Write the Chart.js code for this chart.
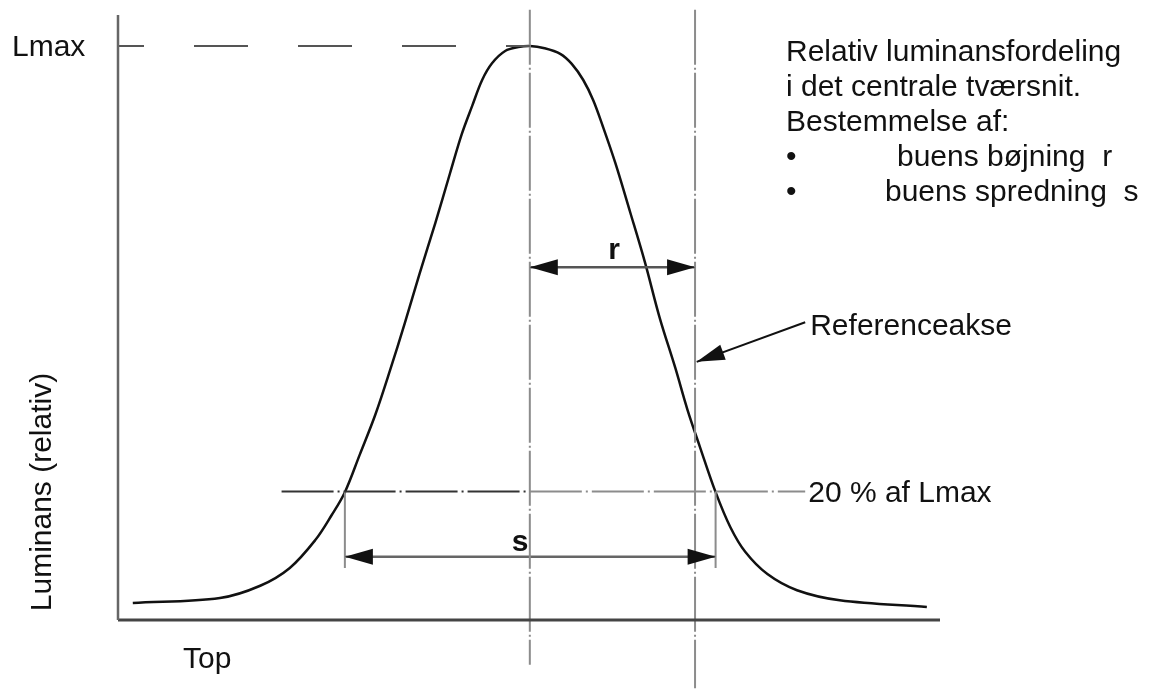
<!DOCTYPE html>
<html>
<head>
<meta charset="utf-8">
<script src="https://cdn.jsdelivr.net/npm/chart.js@4.4.1/dist/chart.umd.min.js"></script>
<style>
  html, body { margin: 0; padding: 0; background: #fff; }
  canvas { display: block; }
</style>
</head>
<body>
<canvas id="lumChart" width="1160" height="695"></canvas>
<script>
// Relative luminance across the central cross-section (x: position 0-100, y: % of Lmax)
const curveX = [1.8, 12.4, 17.3, 20.9, 24.0, 26.0, 27.6, 29.4, 31.3, 33.1, 34.9, 36.7, 38.6, 40.4, 41.8, 43.1, 44.3, 45.5, 47.1, 48.7, 50.1,
                51.9, 53.8, 55.2, 56.6, 57.8, 59.0, 60.5, 62.3, 64.1, 65.9, 67.8, 69.3, 70.8, 72.7, 74.5, 76.3, 79.0, 82.6, 87.8, 98.4];
const curveY = [0, 0.9, 3.1, 6.3, 11.3, 15.8, 19.9, 26.6, 33.8, 41.8, 50.3, 59.2, 68.2, 77.2, 84.1, 89.3, 93.9, 96.9, 99.1, 99.8, 100,
                99.6, 98.6, 96.8, 93.9, 90.3, 85.5, 79.0, 70.2, 61.2, 51.2, 42.2, 34.6, 28.0, 19.9, 13.6, 9.2, 5.2, 2.3, 0.5, -0.7];

const lmaxLevel = 100;
const refLevel = 20;          // 20 % af Lmax
const centerX = 50.1;         // curve peak
const refAxisX = 70.2;        // Referenceakse
const spreadX = [27.6, 72.7]; // where the curve crosses 20 %
const rArrowY = 60.3;
const sArrowY = 8.3;

const yMin = -3.05, yMax = 105.57;

const seg = (x1, y1, x2, y2) => [{ x: x1, y: y1 }, { x: x2, y: y2 }];
const guide = (data, color, width, dash, offset) => ({
  data: data, borderColor: color, borderWidth: width, borderDash: dash || [], borderDashOffset: offset || 0,
  pointRadius: 0, fill: false, clip: false, tension: 0
});

// arrowheads: [tipX, tipY, fromX, fromY] in data units
const arrowHeads = [
  [centerX, rArrowY, refAxisX, rArrowY],
  [refAxisX, rArrowY, centerX, rArrowY],
  [spreadX[0], sArrowY, spreadX[1], sArrowY],
  [spreadX[1], sArrowY, spreadX[0], sArrowY],
  [70.4, 43.3, 83.6, 50.4]
];

const textFont = '30px "Liberation Sans", Arial, sans-serif';

const annotations = {
  id: 'annotations',
  afterDatasetsDraw(chart) {
    const { ctx, scales: { x, y } } = chart;
    ctx.save();
    // arrowheads
    ctx.fillStyle = '#111';
    arrowHeads.forEach(function (a) {
      const tx = x.getPixelForValue(a[0]), ty = y.getPixelForValue(a[1]);
      const fx = x.getPixelForValue(a[2]), fy = y.getPixelForValue(a[3]);
      const ang = Math.atan2(ty - fy, tx - fx);
      const len = 28, half = 8;
      ctx.beginPath();
      ctx.moveTo(tx, ty);
      ctx.lineTo(tx - len * Math.cos(ang) + half * Math.sin(ang), ty - len * Math.sin(ang) - half * Math.cos(ang));
      ctx.lineTo(tx - len * Math.cos(ang) - half * Math.sin(ang), ty - len * Math.sin(ang) + half * Math.cos(ang));
      ctx.closePath();
      ctx.fill();
    });

    ctx.fillStyle = '#111';
    ctx.textBaseline = 'middle';
    ctx.textAlign = 'left';
    ctx.font = textFont;
    ctx.fillText('Lmax', 12, y.getPixelForValue(lmaxLevel) + 2);
    ctx.fillText('Top', 183, 660);
    ctx.fillText('Referenceakse', x.getPixelForValue(83.6) + 5, y.getPixelForValue(50.4) + 4);
    ctx.fillText('20 % af Lmax', x.getPixelForValue(83.6) + 3, y.getPixelForValue(refLevel) + 2);

    const lines = ['Relativ luminansfordeling', 'i det centrale tværsnit.', 'Bestemmelse af:'];
    lines.forEach(function (t, i) { ctx.fillText(t, 786, 53 + i * 35); });
    ctx.fillText('•', 786, 158);
    ctx.fillText('buens bøjning  r', 897, 158);
    ctx.fillText('•', 786, 193);
    ctx.fillText('buens spredning  s', 885, 193);

    // dimension letters
    ctx.font = 'bold 30px "Liberation Sans", Arial, sans-serif';
    ctx.textAlign = 'center';
    ctx.fillText('r', 614, y.getPixelForValue(rArrowY) - 16);
    ctx.fillText('s', 520, y.getPixelForValue(sArrowY) - 14);

    // y axis title
    ctx.font = textFont;
    ctx.translate(43, 492);
    ctx.rotate(-Math.PI / 2);
    ctx.fillText('Luminans (relativ)', 0, 0);
    ctx.restore();
  }
};

new Chart(document.getElementById('lumChart').getContext('2d'), {
  type: 'line',
  data: {
    datasets: [
      guide(seg(0, yMin, 0, yMax), '#666', 2.5),
      guide(seg(0, yMin, 100, yMin), '#444', 3),
      guide(seg(0, lmaxLevel, centerX, lmaxLevel), '#555', 2, [54, 50], 28),
      guide(seg(centerX, 106.5, centerX, -11.1), '#8c8c8c', 2, [55, 3, 2, 3]),
      guide(seg(refAxisX, 106.5, refAxisX, -15.3), '#8c8c8c', 2, [55, 3, 2, 3]),
      guide(seg(19.9, refLevel, centerX, refLevel), '#333', 2, [52, 4, 2, 4]),
      guide(seg(centerX, refLevel, 83.6, refLevel), '#8c8c8c', 2, [52, 4, 2, 4]),
      guide(seg(spreadX[0], refLevel, spreadX[0], 6.3), '#8c8c8c', 2),
      guide(seg(spreadX[1], refLevel, spreadX[1], 6.3), '#8c8c8c', 2),
      guide(seg(centerX, rArrowY, refAxisX, rArrowY), '#555', 2.5),
      guide(seg(spreadX[0], sArrowY, spreadX[1], sArrowY), '#666', 2.5),
      guide(seg(83.6, 50.4, 70.4, 43.3), '#111', 2),
      {
        data: curveX.map((v, i) => ({ x: v, y: curveY[i] })),
        borderColor: '#111',
        borderWidth: 2.5,
        pointRadius: 0,
        fill: false,
        clip: false,
        tension: 0.35
      }
    ]
  },
  options: {
    responsive: false,
    animation: false,
    devicePixelRatio: 1,
    layout: { padding: { left: 118, right: 220, top: 15, bottom: 75 } },
    plugins: { legend: { display: false }, tooltip: { enabled: false } },
    scales: {
      x: { type: 'linear', display: false, min: 0, max: 100 },
      y: { type: 'linear', display: false, min: yMin, max: yMax }
    }
  },
  plugins: [annotations]
});
</script>
</body>
</html>
